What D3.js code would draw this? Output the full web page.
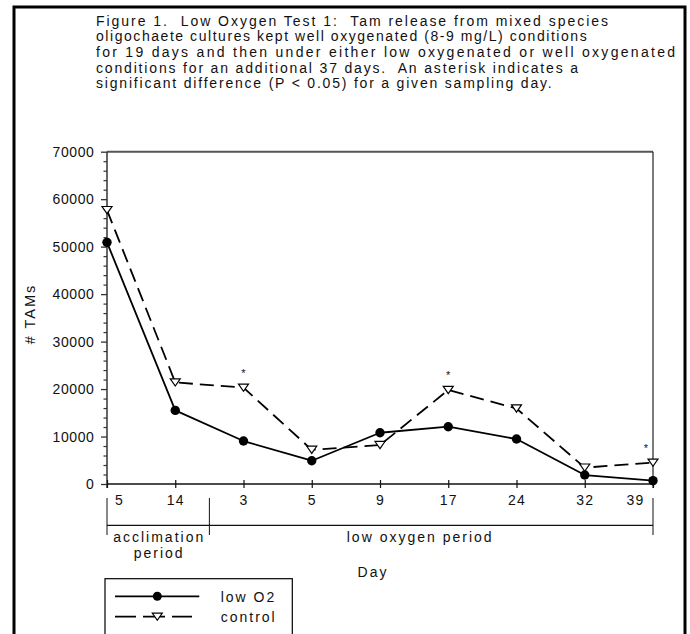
<!DOCTYPE html>
<html>
<head>
<meta charset="utf-8">
<script src="https://cdn.jsdelivr.net/npm/d3@7"></script>
<style>
  html, body { margin: 0; padding: 0; background: #fff; }
  svg { display: block; }
  text { font-family: "Liberation Sans", Arial, Helvetica, sans-serif; fill: #111; }
</style>
</head>
<body>
<script>
// ---------- data ----------
const titleLines = [
  "Figure 1.  Low Oxygen Test 1:  Tam release from mixed species",
  "oligochaete cultures kept well oxygenated (8-9 mg/L) conditions",
  "for 19 days and then under either low oxygenated or well oxygenated",
  "conditions for an additional 37 days.  An asterisk indicates a",
  "significant difference (P < 0.05) for a given sampling day."
];
const categories = ["5", "14", "3", "5", "9", "17", "24", "32", "39"];
const lowO2   = [50900, 15500, 9050, 4900, 10800, 12070, 9470, 1890, 700];
const control = [57700, 21400, 20300, 7200, 8200, 19800, 15900, 3450, 4500];
const significant = [2, 5, 8];           // category indices marked with *
const yTicks = [0, 10000, 20000, 30000, 40000, 50000, 60000, 70000];
const periodBounds = [0, 1.5, 8];        // in category-index units
const periodLabels = [["acclimation", "period"], ["low oxygen period"]];
const seriesNames = ["low O2", "control"];
const yLabel = "# TAMs";
const xLabel = "Day";

// ---------- layout ----------
const W = 690, H = 634;
const svg = d3.select("body").append("svg").attr("width", W).attr("height", H);

const x = d3.scaleLinear().domain([0, categories.length - 1]).range([107, 653]);
const y = d3.scaleLinear().domain([0, 70000]).range([484, 151.7]);

// outer border
svg.append("rect").attr("x", 14).attr("y", 7).attr("width", 671).attr("height", 700)
  .attr("fill", "none").attr("stroke", "#000").attr("stroke-width", 3);

// title (line widths matched to the reference typesetting)
const titleWidths = [512, 490.7, 579, 482, 455.7];
const title = svg.append("text").attr("font-size", 14)
  .attr("xml:space", "preserve").style("white-space", "pre");
titleLines.forEach((t, i) => {
  title.append("tspan").attr("x", 96).attr("y", 25.5 + i * 15.7)
    .attr("textLength", titleWidths[i]).attr("lengthAdjust", "spacing").text(t);
});

// frame top / right
svg.append("line").attr("x1", x(0)).attr("x2", x(8)).attr("y1", y(70000)).attr("y2", y(70000))
  .attr("stroke", "#555").attr("stroke-width", 2);
svg.append("line").attr("x1", x(8)).attr("x2", x(8)).attr("y1", y(70000)).attr("y2", y(0) + 4)
  .attr("stroke", "#222").attr("stroke-width", 1.2);

// y axis minor ticks
const minor = d3.range(0, 70001, 2000).filter(v => v % 10000 !== 0);
const yMinor = svg.append("g").attr("transform", `translate(${x(0)},0)`)
  .call(d3.axisLeft(y).tickValues(minor).tickSize(3.5).tickFormat(""));
yMinor.select(".domain").remove();
yMinor.selectAll("line").attr("stroke", "#333").attr("stroke-width", 1.2);

// y axis major
const yAxis = svg.append("g").attr("transform", `translate(${x(0)},0)`)
  .call(d3.axisLeft(y).tickValues(yTicks).tickSize(6).tickPadding(6.5).tickFormat(d3.format("d")));
yAxis.select(".domain").attr("d", `M0,${y(70000)}V${y(0) + 4}`).attr("stroke", "#333").attr("stroke-width", 1.5);
yAxis.selectAll("line").attr("stroke", "#333").attr("stroke-width", 1.3);
yAxis.selectAll("text").attr("font-size", 14).attr("letter-spacing", 0.6)
  .style("font-family", '"Liberation Sans", Arial, sans-serif').attr("fill", "#111");

// x axis
const xAxis = svg.append("g").attr("transform", `translate(0,${y(0)})`)
  .call(d3.axisBottom(x).tickValues(d3.range(categories.length)).tickSize(4).tickPadding(7)
    .tickFormat(i => categories[i]));
xAxis.select(".domain").attr("d", `M${x(0)},0H${x(8)}`).attr("stroke", "#111").attr("stroke-width", 1.6);
xAxis.selectAll("line").attr("y1", -4).attr("y2", 4).attr("stroke", "#111").attr("stroke-width", 1.2);
xAxis.selectAll("text").attr("font-size", 14).attr("letter-spacing", 1.2)
  .style("font-family", '"Liberation Sans", Arial, sans-serif').attr("fill", "#111")
  .attr("dx", (d, i) => i === 0 ? 12 : (i === categories.length - 1 ? -18 : 0));

// period brackets
const bracketY = 525.3;
svg.append("line").attr("x1", x(periodBounds[0])).attr("x2", x(periodBounds[2]))
  .attr("y1", bracketY).attr("y2", bracketY).attr("stroke", "#111").attr("stroke-width", 1.2);
periodBounds.forEach(b => {
  svg.append("line").attr("x1", x(b)).attr("x2", x(b)).attr("y1", 498).attr("y2", 535)
    .attr("stroke", "#111").attr("stroke-width", 1);
});
periodLabels.forEach((lines, i) => {
  const cx = (x(periodBounds[i]) + x(periodBounds[i + 1])) / 2 + (i === 1 ? -12 : 0);
  const t = svg.append("text").attr("font-size", 14).attr("letter-spacing", 2).attr("text-anchor", "middle");
  lines.forEach((ln, j) => t.append("tspan").attr("x", cx + 1).attr("y", 541.5 + j * 16.5).text(ln));
});

// axis titles
svg.append("text").attr("font-size", 14).attr("letter-spacing", 2).attr("text-anchor", "middle")
  .attr("x", 373).attr("y", 577).text(xLabel);
svg.append("text").attr("font-size", 14.5).attr("letter-spacing", 2).attr("text-anchor", "middle")
  .attr("transform", "translate(35,314) rotate(-90)").text(yLabel);

// series lines
const line = d3.line().x((d, i) => x(i)).y(d => y(d));
svg.append("path").datum(lowO2).attr("d", line).attr("fill", "none")
  .attr("stroke", "#000").attr("stroke-width", 1.8).attr("stroke-linejoin", "round");
svg.append("path").datum(control).attr("d", line).attr("fill", "none")
  .attr("stroke", "#000").attr("stroke-width", 1.8).attr("stroke-dasharray", "14,7");

// markers
const triPath = "M-5,-3.6L5,-3.6L0,3.6Z";
svg.append("g").selectAll("path").data(control).join("path")
  .attr("d", triPath).attr("transform", (d, i) => `translate(${x(i)},${y(d)})`)
  .attr("fill", "#fff").attr("stroke", "#000").attr("stroke-width", 1.2);
svg.append("g").selectAll("circle").data(lowO2).join("circle")
  .attr("cx", (d, i) => x(i)).attr("cy", d => y(d)).attr("r", 4.7).attr("fill", "#000");

// asterisks
svg.append("g").selectAll("text").data(significant).join("text")
  .attr("font-size", 11).attr("text-anchor", "middle").attr("fill", "#333")
  .attr("x", i => x(i) + (i === categories.length - 1 ? -7 : 0))
  .attr("y", i => y(control[i]) - 11)
  .text("*");

// legend
const lg = svg.append("g");
lg.append("rect").attr("x", 105).attr("y", 578.7).attr("width", 187.3).attr("height", 100)
  .attr("fill", "#fff").attr("stroke", "#000").attr("stroke-width", 1.2);
const rows = [596.3, 616.7];
lg.append("line").attr("x1", 115).attr("x2", 199.3).attr("y1", rows[0]).attr("y2", rows[0])
  .attr("stroke", "#000").attr("stroke-width", 1.8);
lg.append("circle").attr("cx", 157.3).attr("cy", rows[0]).attr("r", 4.5).attr("fill", "#000");
lg.append("line").attr("x1", 115).attr("x2", 192).attr("y1", rows[1]).attr("y2", rows[1])
  .attr("stroke", "#000").attr("stroke-width", 1.8).attr("stroke-dasharray", "21,7,11,0,11,7");
lg.append("path").attr("d", triPath).attr("transform", `translate(157.3,${rows[1]})`)
  .attr("fill", "#fff").attr("stroke", "#000").attr("stroke-width", 1.2);
seriesNames.forEach((n, i) => {
  lg.append("text").attr("font-size", 14).attr("letter-spacing", 2)
    .attr("x", 220.7).attr("y", rows[i] + 5.3).text(n);
});
</script>
</body>
</html>
